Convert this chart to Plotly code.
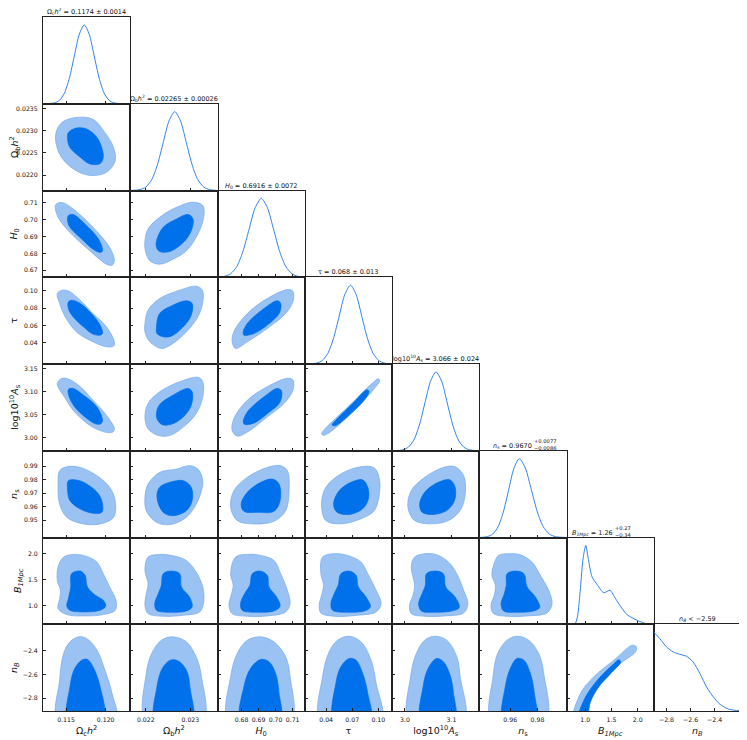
import plotly.graph_objects as go

# parameters: Omega_c h^2, Omega_b h^2, H0, tau, log10^10 A_s, n_s, B_1Mpc, n_B
labels = ['Ω<sub>c</sub><i>h</i><sup>2</sup>', 'Ω<sub>b</sub><i>h</i><sup>2</sup>', '<i>H</i><sub>0</sub>', 'τ',
          'log10<sup>10</sup><i>A</i><sub>s</sub>', '<i>n</i><sub>s</sub>', '<i>B</i><sub><i>1Mpc</i></sub>',
          '<i>n</i><sub><i>B</i></sub>']
ranges = [[0.1121, 0.1231], [0.02165, 0.02361], [0.6659, 0.7171], [0.0154, 0.1158],
          [2.972, 3.160], [0.9373, 1.0013], [0.643, 2.305], [-2.906, -2.181]]

xtick_vals = [[0.115, 0.120], [0.022, 0.023], [0.68, 0.69, 0.70, 0.71], [0.04, 0.07, 0.10],
              [3.0, 3.1], [0.96, 0.98], [1.0, 1.5, 2.0], [-2.8, -2.6, -2.4]]
xtick_text = [['0.115', '0.120'], ['0.022', '0.023'], ['0.68', '0.69', '0.70', '0.71'], ['0.04', '0.07', '0.10'],
              ['3.0', '3.1'], ['0.96', '0.98'], ['1.0', '1.5', '2.0'], ['−2.8', '−2.6', '−2.4']]
ytick_vals = [[], [0.0220, 0.0225, 0.0230, 0.0235], [0.67, 0.68, 0.69, 0.70, 0.71], [0.04, 0.06, 0.08, 0.10],
              [3.00, 3.05, 3.10, 3.15], [0.95, 0.96, 0.97, 0.98, 0.99], [1.0, 1.5, 2.0], [-2.8, -2.6, -2.4]]
ytick_text = [[], ['0.0220', '0.0225', '0.0230', '0.0235'], ['0.67', '0.68', '0.69', '0.70', '0.71'],
              ['0.04', '0.06', '0.08', '0.10'], ['3.00', '3.05', '3.10', '3.15'],
              ['0.95', '0.96', '0.97', '0.98', '0.99'], ['1.0', '1.5', '2.0'], ['−2.8', '−2.6', '−2.4']]

# marginal titles (main part, stacked upper / lower errors where asymmetric)
titles = ['Ω<sub>c</sub><i>h</i><sup>2</sup> = 0.1174 ± 0.0014',
          'Ω<sub>b</sub><i>h</i><sup>2</sup> = 0.02265 ± 0.00026',
          '<i>H</i><sub>0</sub> = 0.6916 ± 0.0072',
          'τ = 0.068 ± 0.013',
          'log10<sup>10</sup><i>A</i><sub>s</sub> = 3.066 ± 0.024',
          '<i>n</i><sub>s</sub> = 0.9670',
          '<i>B</i><sub><i>1Mpc</i></sub> = 1.26',
          '<i>n</i><sub><i>B</i></sub> &lt; −2.59']
title_errs = {5: ('+0.0077', '−0.0086'), 6: ('+0.27', '−0.34')}

# 1D marginal densities (normalised to peak 1)
oc_x = [0.1121, 0.11355, 0.11418, 0.1148, 0.11543, 0.11605, 0.11668, 0.1173, 0.11793, 0.11855, 0.11918, 0.1198, 0.12043, 0.12105, 0.1223, 0.1231]
oc_y = [0.0, 0.011, 0.044, 0.135, 0.325, 0.607, 0.882, 1.0, 0.882, 0.607, 0.325, 0.135, 0.044, 0.011, 0.0, 0.0]
ob_x = [0.02165, 0.02187, 0.0220, 0.02213, 0.02226, 0.02239, 0.02252, 0.02265, 0.02278, 0.02291, 0.02304, 0.02317, 0.0233, 0.02343, 0.02361]
ob_y = [0.0, 0.011, 0.044, 0.135, 0.325, 0.607, 0.882, 1.0, 0.882, 0.607, 0.325, 0.135, 0.044, 0.011, 0.0]
h0_x = [0.6659, 0.6700, 0.6736, 0.6772, 0.6808, 0.6844, 0.6880, 0.6916, 0.6952, 0.6988, 0.7024, 0.7060, 0.7096, 0.7132, 0.7171]
h0_y = [0.002, 0.011, 0.044, 0.135, 0.325, 0.607, 0.882, 1.0, 0.882, 0.607, 0.325, 0.135, 0.044, 0.011, 0.002]
tau_x = [0.0154, 0.029, 0.0355, 0.042, 0.0485, 0.055, 0.0615, 0.068, 0.0745, 0.081, 0.0875, 0.094, 0.1005, 0.107, 0.1158]
tau_y = [0.0, 0.011, 0.044, 0.135, 0.325, 0.607, 0.882, 1.0, 0.882, 0.607, 0.325, 0.135, 0.044, 0.011, 0.0]
las_x = [2.972, 2.995, 3.007, 3.019, 3.031, 3.043, 3.055, 3.067, 3.079, 3.091, 3.103, 3.115, 3.127, 3.139, 3.160]
las_y = [0.0, 0.011, 0.044, 0.135, 0.325, 0.607, 0.882, 1.0, 0.882, 0.607, 0.325, 0.135, 0.044, 0.011, 0.0]
ns_x = [0.9373, 0.9433, 0.9472, 0.9511, 0.9550, 0.9589, 0.9628, 0.9667, 0.9711, 0.9755, 0.9799, 0.9843, 0.9887, 0.9931, 1.0013]
ns_y = [0.0, 0.011, 0.044, 0.135, 0.325, 0.607, 0.882, 1.0, 0.882, 0.607, 0.325, 0.135, 0.044, 0.011, 0.0]
b1_x = [0.643, 0.80, 0.85, 0.88, 0.91, 0.96, 1.01, 1.06, 1.13, 1.23, 1.35, 1.47, 1.58, 1.68, 1.80, 1.99, 2.15, 2.305]
b1_y = [0.0, 0.0, 0.09, 0.25, 0.47, 0.84, 1.0, 0.82, 0.6, 0.5, 0.4, 0.43, 0.32, 0.22, 0.12, 0.05, 0.01, 0.0]
nb_x = [-2.906, -2.856, -2.80, -2.745, -2.69, -2.634, -2.579, -2.522, -2.467, -2.411, -2.356, -2.286, -2.181]
nb_y = [1.0, 0.918, 0.812, 0.749, 0.719, 0.694, 0.622, 0.474, 0.305, 0.178, 0.085, 0.025, 0.0]

# 2D contours (x = column parameter, y = row parameter), 95% and 68%
ob_oc_95 = [(0.1137, 0.02292), (0.1145, 0.02319), (0.1163, 0.02330), (0.1184, 0.02326), (0.1199, 0.02296), (0.1210, 0.02262),
            (0.1212, 0.02232), (0.1201, 0.02206), (0.1180, 0.02199), (0.1159, 0.02214), (0.1142, 0.02247)]
ob_oc_68 = [(0.1153, 0.02296), (0.1163, 0.02306), (0.1176, 0.02304), (0.1189, 0.02285), (0.1195, 0.02262), (0.1197, 0.02240),
            (0.1193, 0.02226), (0.1180, 0.02225), (0.1168, 0.02240), (0.1155, 0.02262), (0.1152, 0.02281)]
h0_oc_95 = [(0.1137, 0.7088), (0.1145, 0.7100), (0.1159, 0.7062), (0.1184, 0.6954), (0.1205, 0.6835), (0.1211, 0.6756),
            (0.1208, 0.6730), (0.1201, 0.6736), (0.1180, 0.6815), (0.1157, 0.6914), (0.1140, 0.7013)]
h0_oc_68 = [(0.1153, 0.7023), (0.1159, 0.7029), (0.1176, 0.6963), (0.1191, 0.6884), (0.1196, 0.6815), (0.1193, 0.6805),
            (0.1184, 0.6825), (0.1170, 0.6884), (0.1155, 0.6954), (0.1152, 0.6993)]
h0_ob_95 = [(0.02198, 0.6874), (0.02205, 0.6944), (0.02231, 0.7013), (0.02269, 0.7072), (0.02306, 0.7102), (0.02328, 0.7082),
            (0.02330, 0.7013), (0.02317, 0.6914), (0.02291, 0.6815), (0.02261, 0.6765), (0.02231, 0.6736), (0.02209, 0.6756),
            (0.02199, 0.6815)]
h0_ob_68 = [(0.02224, 0.6874), (0.02239, 0.6954), (0.02269, 0.7003), (0.02295, 0.7029), (0.02306, 0.7003), (0.02302, 0.6934),
            (0.02284, 0.6864), (0.02254, 0.6811), (0.02231, 0.6811), (0.02224, 0.6835)]
tau_oc_95 = [(0.1139, 0.0969), (0.1145, 0.1008), (0.1153, 0.1000), (0.1168, 0.0892), (0.1184, 0.0738), (0.1201, 0.0584),
             (0.1211, 0.0411), (0.1210, 0.0361), (0.1201, 0.0353), (0.1184, 0.0411), (0.1163, 0.0527), (0.1149, 0.0700),
             (0.1142, 0.0854)]
tau_oc_68 = [(0.1153, 0.0873), (0.1157, 0.0892), (0.1168, 0.0854), (0.1182, 0.0738), (0.1193, 0.0604), (0.1196, 0.0507),
             (0.1193, 0.0488), (0.1184, 0.0500), (0.1172, 0.0584), (0.1159, 0.0700), (0.1153, 0.0796)]
tau_ob_95 = [(0.02198, 0.0623), (0.02205, 0.0777), (0.02231, 0.0912), (0.02276, 0.1008), (0.02313, 0.1054), (0.02327, 0.1008),
             (0.02328, 0.0873), (0.02317, 0.0700), (0.02291, 0.0526), (0.02261, 0.0392), (0.02235, 0.0334), (0.02209, 0.0411),
             (0.02198, 0.0526)]
tau_ob_68 = [(0.02224, 0.0584), (0.02231, 0.0738), (0.02261, 0.0835), (0.02291, 0.0885), (0.02304, 0.0854), (0.02302, 0.0719),
             (0.02284, 0.0584), (0.02257, 0.0476), (0.02239, 0.0469), (0.02225, 0.0507)]
tau_h0_95 = [(0.6745, 0.0411), (0.6755, 0.0527), (0.6834, 0.0738), (0.6951, 0.0912), (0.7069, 0.1015), (0.7100, 0.1000),
             (0.7104, 0.0892), (0.7059, 0.0738), (0.6951, 0.0565), (0.6834, 0.0411), (0.6765, 0.0334)]
tau_h0_68 = [(0.6810, 0.0527), (0.6834, 0.0623), (0.6932, 0.0796), (0.7010, 0.0885), (0.7030, 0.0854), (0.7020, 0.0738),
             (0.6951, 0.0604), (0.6873, 0.0507), (0.6814, 0.0488)]
las_oc_95 = [(0.1139, 3.1180), (0.1145, 3.1289), (0.1153, 3.1274), (0.1168, 3.1107), (0.1184, 3.0816), (0.1201, 3.0488),
             (0.1211, 3.0197), (0.1209, 3.0124), (0.1199, 3.0124), (0.1180, 3.0270), (0.1159, 3.0597), (0.1148, 3.0888),
             (0.1141, 3.1070)]
las_oc_68 = [(0.1153, 3.1049), (0.1159, 3.1070), (0.1172, 3.0925), (0.1189, 3.0670), (0.1196, 3.0379), (0.1194, 3.0306),
             (0.1187, 3.0306), (0.1174, 3.0452), (0.1161, 3.0670), (0.1154, 3.0888)]
las_ob_95 = [(0.02198, 3.0452), (0.02205, 3.0743), (0.02231, 3.0998), (0.02276, 3.1216), (0.02317, 3.1311), (0.02328, 3.1216),
             (0.02328, 3.0888), (0.02313, 3.0524), (0.02284, 3.0233), (0.02254, 3.0051), (0.02228, 3.0051), (0.02205, 3.0197)]
las_ob_68 = [(0.02224, 3.0452), (0.02230, 3.0706), (0.02261, 3.0925), (0.02295, 3.1070), (0.02304, 3.0998), (0.02302, 3.0706),
             (0.02284, 3.0452), (0.02257, 3.0292), (0.02235, 3.0292)]
las_h0_95 = [(0.6745, 3.0160), (0.6755, 3.0415), (0.6834, 3.0816), (0.6951, 3.1107), (0.7069, 3.1289), (0.7102, 3.1252),
             (0.7102, 3.1034), (0.7049, 3.0743), (0.6951, 3.0452), (0.6834, 3.0124), (0.6775, 3.0037)]
las_h0_68 = [(0.6810, 3.0342), (0.6834, 3.0561), (0.6932, 3.0888), (0.7010, 3.1070), (0.7034, 3.1020), (0.7026, 3.0779),
             (0.6951, 3.0524), (0.6873, 3.0320), (0.6818, 3.0292)]
las_tau_95 = [(0.0347, 3.0087), (0.0377, 3.0174), (0.0648, 3.0668), (0.0937, 3.1192), (0.1001, 3.1279), (0.1017, 3.1235),
              (0.0955, 3.1070), (0.0686, 3.0523), (0.0416, 3.0087), (0.0366, 3.0057)]
las_tau_68 = [(0.0470, 3.0280), (0.0525, 3.0410), (0.0715, 3.0760), (0.0868, 3.1040), (0.0893, 3.1010), (0.0852, 3.0850),
              (0.0672, 3.0505), (0.0500, 3.0260)]
ns_oc_95 = [(0.1142, 0.9866), (0.1151, 0.9895), (0.1168, 0.9890), (0.1189, 0.9829), (0.1205, 0.9743), (0.1212, 0.9645),
            (0.1210, 0.9522), (0.1193, 0.9473), (0.1172, 0.9473), (0.1151, 0.9522), (0.1142, 0.9620), (0.1140, 0.9768)]
ns_oc_68 = [(0.1153, 0.9792), (0.1163, 0.9797), (0.1176, 0.9768), (0.1191, 0.9694), (0.1196, 0.9620), (0.1195, 0.9559),
            (0.1184, 0.9552), (0.1168, 0.9583), (0.1155, 0.9645), (0.1152, 0.9718)]
ns_ob_95 = [(0.02198, 0.9669), (0.02205, 0.9768), (0.02231, 0.9853), (0.02269, 0.9878), (0.02298, 0.9903), (0.02317, 0.9878),
            (0.02328, 0.9792), (0.02317, 0.9645), (0.02291, 0.9522), (0.02254, 0.9468), (0.02224, 0.9485), (0.02201, 0.9571)]
ns_ob_68 = [(0.02225, 0.9669), (0.02231, 0.9743), (0.02254, 0.9780), (0.02284, 0.9792), (0.02302, 0.9743), (0.02304, 0.9645),
            (0.02291, 0.9571), (0.02261, 0.9534), (0.02239, 0.9559)]
ns_h0_95 = [(0.6736, 0.9596), (0.6755, 0.9718), (0.6834, 0.9817), (0.6951, 0.9890), (0.7030, 0.9903), (0.7069, 0.9866),
            (0.7079, 0.9718), (0.7059, 0.9571), (0.6990, 0.9493), (0.6873, 0.9473), (0.6775, 0.9498)]
ns_h0_68 = [(0.6798, 0.9620), (0.6834, 0.9706), (0.6913, 0.9780), (0.6981, 0.9804), (0.7020, 0.9768), (0.7026, 0.9645),
            (0.6990, 0.9566), (0.6892, 0.9559), (0.6814, 0.9566)]
ns_tau_95 = [(0.0347, 0.9621), (0.0397, 0.9743), (0.0570, 0.9842), (0.0801, 0.9895), (0.0955, 0.9886), (0.1013, 0.9805),
             (0.1013, 0.9695), (0.0955, 0.9572), (0.0801, 0.9511), (0.0570, 0.9474), (0.0397, 0.9498)]
ns_tau_68 = [(0.0486, 0.9621), (0.0551, 0.9719), (0.0686, 0.9780), (0.0821, 0.9798), (0.0879, 0.9743), (0.0886, 0.9658),
             (0.0821, 0.9585), (0.0666, 0.9543), (0.0524, 0.9560)]
ns_las_95 = [(3.0063, 0.9596), (3.0135, 0.9719), (3.0425, 0.9817), (3.0827, 0.9890), (3.1080, 0.9895), (3.1263, 0.9830),
             (3.1298, 0.9695), (3.1189, 0.9572), (3.0936, 0.9498), (3.0571, 0.9474), (3.0207, 0.9498)]
ns_las_68 = [(3.0316, 0.9621), (3.0425, 0.9707), (3.0718, 0.9780), (3.0971, 0.9798), (3.1080, 0.9743), (3.1067, 0.9646),
             (3.0899, 0.9572), (3.0608, 0.9543), (3.0368, 0.9560)]
b1_oc_95 = [(0.1147, 1.930), (0.1161, 1.981), (0.1176, 1.943), (0.1189, 1.834), (0.1197, 1.611), (0.1205, 1.357), (0.1213, 1.102),
            (0.1212, 0.911), (0.1197, 0.828), (0.1176, 0.803), (0.1151, 0.828), (0.1140, 0.943), (0.1142, 1.134), (0.1143, 1.293),
            (0.1139, 1.484), (0.1140, 1.739)]
b1_oc_68 = [(0.1157, 1.611), (0.1168, 1.662), (0.1174, 1.580), (0.1177, 1.357), (0.1187, 1.198), (0.1197, 1.102), (0.1200, 0.987),
            (0.1193, 0.911), (0.1172, 0.879), (0.1155, 0.911), (0.1151, 0.987), (0.1153, 1.134), (0.1156, 1.357)]
b1_ob_95 = [(0.02205, 1.930), (0.02231, 1.981), (0.02257, 1.962), (0.02291, 1.866), (0.02313, 1.643), (0.02328, 1.357),
            (0.02330, 1.070), (0.02321, 0.879), (0.02284, 0.815), (0.02239, 0.796), (0.02205, 0.847), (0.02198, 1.006),
            (0.02201, 1.229), (0.02205, 1.420), (0.02198, 1.675)]
b1_ob_68 = [(0.02239, 1.611), (0.02257, 1.662), (0.02276, 1.611), (0.02280, 1.357), (0.02298, 1.166), (0.02304, 0.975),
            (0.02291, 0.898), (0.02254, 0.873), (0.02224, 0.911), (0.02220, 1.038), (0.02228, 1.229), (0.02235, 1.389)]
b1_h0_95 = [(0.6765, 1.930), (0.6834, 1.981), (0.6912, 1.962), (0.6990, 1.866), (0.7030, 1.611), (0.7069, 1.293), (0.7085, 1.038),
            (0.7059, 0.879), (0.6951, 0.803), (0.6834, 0.796), (0.6745, 0.847), (0.6726, 1.006), (0.6739, 1.197), (0.6751, 1.389),
            (0.6736, 1.611)]
b1_h0_68 = [(0.6863, 1.611), (0.6908, 1.662), (0.6951, 1.580), (0.6961, 1.357), (0.7006, 1.166), (0.7026, 0.987), (0.6990, 0.898),
            (0.6892, 0.873), (0.6804, 0.911), (0.6794, 1.038), (0.6818, 1.229), (0.6849, 1.389)]
b1_tau_95 = [(0.0359, 1.930), (0.0493, 1.994), (0.0648, 1.962), (0.0801, 1.834), (0.0879, 1.611), (0.0975, 1.293), (0.1033, 1.038),
             (0.0975, 0.879), (0.0763, 0.815), (0.0493, 0.796), (0.0339, 0.860), (0.0320, 1.006), (0.0347, 1.197), (0.0370, 1.389),
             (0.0339, 1.611)]
b1_tau_68 = [(0.0570, 1.611), (0.0666, 1.662), (0.0744, 1.580), (0.0770, 1.357), (0.0859, 1.166), (0.0909, 0.975), (0.0840, 0.898),
             (0.0648, 0.873), (0.0474, 0.911), (0.0455, 1.038), (0.0493, 1.229), (0.0539, 1.389)]
b1_las_95 = [(3.0135, 1.739), (3.0207, 1.930), (3.0425, 1.994), (3.0681, 1.975), (3.0936, 1.834), (3.1117, 1.611), (3.1263, 1.293),
             (3.1357, 1.038), (3.1263, 0.860), (3.0862, 0.803), (3.0425, 0.796), (3.0135, 0.847), (3.0098, 1.006), (3.0172, 1.197),
             (3.0207, 1.389)]
b1_las_68 = [(3.0462, 1.611), (3.0644, 1.662), (3.0827, 1.611), (3.0877, 1.357), (3.1080, 1.166), (3.1168, 0.962), (3.1008, 0.898),
             (3.0644, 0.873), (3.0353, 0.898), (3.0294, 1.038), (3.0368, 1.229), (3.0440, 1.389)]
b1_ns_95 = [(0.9478, 1.771), (0.9515, 1.962), (0.9588, 1.994), (0.9674, 1.975), (0.9760, 1.834), (0.9821, 1.580), (0.9882, 1.293),
            (0.9907, 1.038), (0.9870, 0.860), (0.9724, 0.803), (0.9577, 0.796), (0.9478, 0.847), (0.9459, 1.006), (0.9483, 1.197),
            (0.9491, 1.389), (0.9466, 1.580)]
b1_ns_68 = [(0.9577, 1.611), (0.9638, 1.662), (0.9700, 1.611), (0.9724, 1.357), (0.9785, 1.166), (0.9816, 0.962), (0.9772, 0.898),
            (0.9650, 0.873), (0.9552, 0.898), (0.9533, 1.038), (0.9557, 1.229), (0.9571, 1.389)]
# n_B contours run off the bottom of the axes (prior edge), so they close below it
nb_oc_95 = [(0.1140, -3.0), (0.1142, -2.647), (0.1147, -2.425), (0.1155, -2.328), (0.1166, -2.286), (0.1176, -2.300),
            (0.1189, -2.397), (0.1199, -2.564), (0.1208, -2.758), (0.1213, -3.0)]
nb_oc_68 = [(0.1153, -3.0), (0.1155, -2.703), (0.1161, -2.550), (0.1170, -2.481), (0.1177, -2.475), (0.1184, -2.536),
            (0.1193, -2.703), (0.1197, -3.0)]
nb_ob_95 = [(0.02201, -3.0), (0.02201, -2.592), (0.02213, -2.425), (0.02235, -2.314), (0.02261, -2.286), (0.02291, -2.328),
            (0.02313, -2.453), (0.02325, -2.619), (0.02328, -3.0)]
nb_ob_68 = [(0.02222, -3.0), (0.02225, -2.703), (0.02237, -2.550), (0.02255, -2.481), (0.02272, -2.486), (0.02291, -2.564),
            (0.02300, -2.731), (0.02304, -3.0)]
nb_h0_95 = [(0.6726, -3.0), (0.6736, -2.619), (0.6775, -2.425), (0.6834, -2.314), (0.6912, -2.286), (0.6990, -2.328),
            (0.7059, -2.453), (0.7085, -2.619), (0.7088, -3.0)]
nb_h0_68 = [(0.6798, -3.0), (0.6814, -2.703), (0.6853, -2.550), (0.6912, -2.475), (0.6961, -2.494), (0.7000, -2.592),
            (0.7020, -2.758), (0.7026, -3.0)]
nb_tau_95 = [(0.0339, -3.0), (0.0359, -2.619), (0.0435, -2.411), (0.0532, -2.314), (0.0666, -2.281), (0.0801, -2.328),
             (0.0917, -2.481), (0.0975, -2.675), (0.1033, -3.0)]
nb_tau_68 = [(0.0493, -3.0), (0.0512, -2.675), (0.0570, -2.536), (0.0666, -2.467), (0.0744, -2.481), (0.0821, -2.592),
             (0.0879, -2.758), (0.0909, -3.0)]
nb_las_95 = [(3.0098, -3.0), (3.0120, -2.619), (3.0244, -2.425), (3.0425, -2.314), (3.0644, -2.281), (3.0899, -2.314),
             (3.1117, -2.453), (3.1189, -2.619), (3.1263, -3.0)]
nb_las_68 = [(3.0353, -3.0), (3.0390, -2.703), (3.0499, -2.550), (3.0681, -2.467), (3.0827, -2.494), (3.0971, -2.606),
             (3.1045, -2.758), (3.1067, -3.0)]
nb_ns_95 = [(0.9466, -3.0), (0.9474, -2.619), (0.9508, -2.425), (0.9577, -2.314), (0.9650, -2.281), (0.9735, -2.314),
            (0.9809, -2.425), (0.9846, -2.592), (0.9858, -3.0)]
nb_ns_68 = [(0.9552, -3.0), (0.9564, -2.703), (0.9601, -2.550), (0.9650, -2.467), (0.9700, -2.481), (0.9748, -2.592),
            (0.9777, -2.758), (0.9785, -3.0)]
nb_b1_95 = [(0.760, -3.0), (0.9101, -2.758), (1.164, -2.619), (1.5455, -2.481), (1.8966, -2.356), (1.973, -2.369),
            (1.9595, -2.411), (1.6733, -2.508), (1.3547, -2.647), (1.101, -2.786), (0.940, -3.0)]
nb_b1_68 = [(0.860, -3.0), (0.973, -2.817), (1.2288, -2.650), (1.5455, -2.511), (1.641, -2.478), (1.6733, -2.497),
            (1.4825, -2.594), (1.2594, -2.703), (1.101, -2.828), (1.010, -3.0)]

dens_x = [oc_x, ob_x, h0_x, tau_x, las_x, ns_x, b1_x, nb_x]
dens_y = [oc_y, ob_y, h0_y, tau_y, las_y, ns_y, b1_y, nb_y]
pairs = {
    (1, 0): (ob_oc_95, ob_oc_68),
    (2, 0): (h0_oc_95, h0_oc_68), (2, 1): (h0_ob_95, h0_ob_68),
    (3, 0): (tau_oc_95, tau_oc_68), (3, 1): (tau_ob_95, tau_ob_68), (3, 2): (tau_h0_95, tau_h0_68),
    (4, 0): (las_oc_95, las_oc_68), (4, 1): (las_ob_95, las_ob_68), (4, 2): (las_h0_95, las_h0_68),
    (4, 3): (las_tau_95, las_tau_68),
    (5, 0): (ns_oc_95, ns_oc_68), (5, 1): (ns_ob_95, ns_ob_68), (5, 2): (ns_h0_95, ns_h0_68),
    (5, 3): (ns_tau_95, ns_tau_68), (5, 4): (ns_las_95, ns_las_68),
    (6, 0): (b1_oc_95, b1_oc_68), (6, 1): (b1_ob_95, b1_ob_68), (6, 2): (b1_h0_95, b1_h0_68),
    (6, 3): (b1_tau_95, b1_tau_68), (6, 4): (b1_las_95, b1_las_68), (6, 5): (b1_ns_95, b1_ns_68),
    (7, 0): (nb_oc_95, nb_oc_68), (7, 1): (nb_ob_95, nb_ob_68), (7, 2): (nb_h0_95, nb_h0_68),
    (7, 3): (nb_tau_95, nb_tau_68), (7, 4): (nb_las_95, nb_las_68), (7, 5): (nb_ns_95, nb_ns_68),
    (7, 6): (nb_b1_95, nb_b1_68),
}

OUTER = '#9AC3F3'
OUTER_EDGE = '#74AAEE'
INNER = '#0070EB'
LINE_1D = '#2F82EA'
AXIS = '#222222'
FONT = 'DejaVu Sans'
TXT = '#111111'

n = len(labels)
n_panels = n * (n + 1) // 2
fig = go.Figure()
layout_axes = {}
annotations = []
k = 0
extra = n_panels  # ids for the overlay axes that carry the outward half of each tick
for i in range(n):
    for j in range(i + 1):
        k += 1
        sx = '' if k == 1 else str(k)
        xr, yr = 'x' + sx, 'y' + sx
        if i == j:
            fig.add_trace(go.Scatter(x=dens_x[i], y=dens_y[i], mode='lines', xaxis=xr, yaxis=yr,
                                     line=dict(color=LINE_1D, width=1, shape='spline', smoothing=0.7),
                                     hoverinfo='skip'))
        else:
            c95, c68 = pairs[(i, j)]
            for pts, fc, lc in [(c95, OUTER, OUTER_EDGE), (c68, INNER, INNER)]:
                xs = [p[0] for p in pts] + [pts[0][0]]
                ys = [p[1] for p in pts] + [pts[0][1]]
                fig.add_trace(go.Scatter(x=xs, y=ys, mode='lines', fill='toself', fillcolor=fc,
                                         xaxis=xr, yaxis=yr,
                                         line=dict(color=lc, width=0.7, shape='spline', smoothing=1.0),
                                         hoverinfo='skip'))
        tick_font = dict(size=6.2, family=FONT, color=TXT)
        xa = dict(domain=[j / n, (j + 1) / n], range=ranges[j], anchor=yr, automargin=False,
                  tickmode='array', tickvals=xtick_vals[j], ticktext=xtick_text[j], tickangle=0,
                  showticklabels=(i == n - 1), ticks='inside', ticklen=3, tickwidth=1, tickcolor=AXIS,
                  ticklabelstandoff=3,
                  showline=True, mirror=True, linecolor=AXIS, linewidth=1,
                  showgrid=False, zeroline=False, tickfont=tick_font)
        if i == n - 1:
            xa['title'] = dict(text=labels[j], font=dict(size=9.5, family=FONT, color=TXT), standoff=4)
        if i == j:
            ya = dict(domain=[1 - (i + 1) / n, 1 - i / n], range=[0, 1.1], anchor=xr, automargin=False,
                      showticklabels=False, ticks='', showline=True, mirror=True,
                      linecolor=AXIS, linewidth=1, showgrid=False, zeroline=False)
        else:
            ya = dict(domain=[1 - (i + 1) / n, 1 - i / n], range=ranges[i], anchor=xr, automargin=False,
                      tickmode='array', tickvals=ytick_vals[i], ticktext=ytick_text[i],
                      showticklabels=(j == 0), ticks='inside', ticklen=3, tickwidth=1, tickcolor=AXIS,
                      ticklabelstandoff=3,
                      showline=True, mirror=True, linecolor=AXIS, linewidth=1,
                      showgrid=False, zeroline=False, tickfont=tick_font)
            if j == 0:
                ya['title'] = dict(text=labels[i], font=dict(size=9.5, family=FONT, color=TXT), standoff=4)
        layout_axes['xaxis' + sx] = xa
        layout_axes['yaxis' + sx] = ya

        # outward half of the ticks (matplotlib 'inout' style)
        extra += 1
        layout_axes['xaxis' + str(extra)] = dict(overlaying=xr, anchor=yr, range=ranges[j], side='bottom',
                                                 tickmode='array', tickvals=xtick_vals[j], ticks='outside',
                                                 ticklen=3, tickwidth=1, tickcolor=AXIS, showticklabels=False,
                                                 showline=False, showgrid=False, zeroline=False, automargin=False)
        if i != j:
            layout_axes['yaxis' + str(extra)] = dict(overlaying=yr, anchor=xr, range=ranges[i], side='left',
                                                     tickmode='array', tickvals=ytick_vals[i], ticks='outside',
                                                     ticklen=3, tickwidth=1, tickcolor=AXIS, showticklabels=False,
                                                     showline=False, showgrid=False, zeroline=False, automargin=False)

        if i == j:
            dref_x, dref_y = xr + ' domain', yr + ' domain'
            if i in title_errs:
                split = 0.62 if i == 5 else 0.54
                annotations.append(dict(text=titles[i], xref=dref_x, yref=dref_y, x=split, y=1.0,
                                        xanchor='right', yanchor='bottom', yshift=0, borderpad=0, showarrow=False,
                                        font=dict(size=6.5, family=FONT, color=TXT)))
                up, lo = title_errs[i]
                annotations.append(dict(text=up + '<br>' + lo, xref=dref_x, yref=dref_y, x=split, y=1.0,
                                        xanchor='left', yanchor='bottom', yshift=-1, borderpad=0, showarrow=False,
                                        font=dict(size=5.2, family=FONT, color=TXT)))
            else:
                annotations.append(dict(text=titles[i], xref=dref_x, yref=dref_y, x=0.5, y=1.0,
                                        xanchor='center', yanchor='bottom', yshift=0, borderpad=0, showarrow=False,
                                        font=dict(size=6.5, family=FONT, color=TXT)))

# the page body adds an 8 px offset, so the figure is a little smaller than the window
fig.update_layout(
    width=739, height=732,
    margin=dict(l=35, r=6, t=9, b=29),
    paper_bgcolor='white', plot_bgcolor='white',
    showlegend=False, hovermode=False,
    annotations=annotations,
    **layout_axes
)

fig.write_html("out.html")
